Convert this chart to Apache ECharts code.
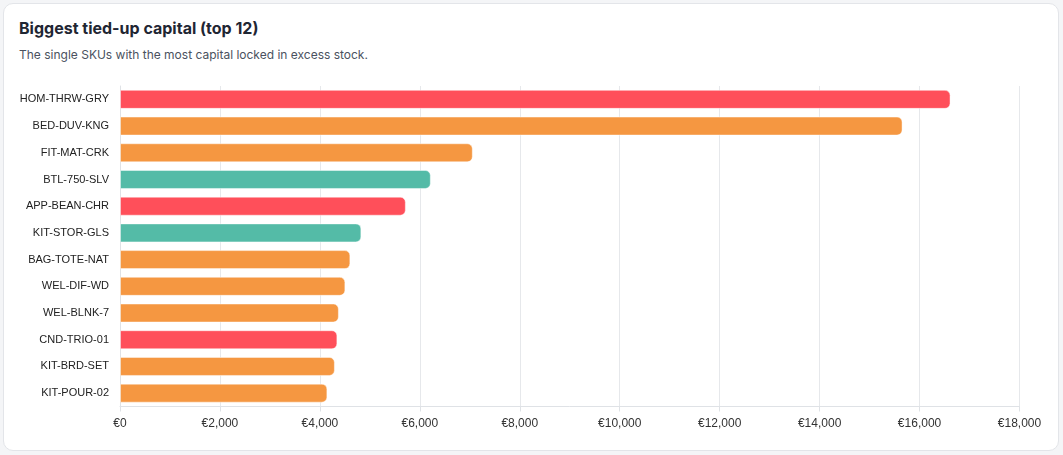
<!DOCTYPE html>
<html>
<head>
<meta charset="utf-8">
<script src="https://cdn.jsdelivr.net/npm/echarts@6/dist/echarts.min.js"></script>
<style>
  html, body { margin: 0; padding: 0; background: #f4f5f7; }
  body { width: 1063px; height: 455px; position: relative; overflow: hidden; font-family: Inter, "Liberation Sans", sans-serif; }
  .card { position: absolute; left: 3px; top: 3px; width: 1054px; height: 446px; background: #fff; border: 1px solid #e3e5e9; border-radius: 10px; }
  .card h3 { position: absolute; left: 15px; top: 14px; margin: 0; font-size: 16px; font-weight: 700; color: #1f2633; }
  .card p { position: absolute; left: 15px; top: 43px; margin: 0; font-size: 12px; color: #4a5260; }
  #chart { position: absolute; left: 0; top: 0; width: 1063px; height: 455px; }
</style>
</head>
<body>
<div class="card">
  <h3>Biggest tied-up capital (top 12)</h3>
  <p>The single SKUs with the most capital locked in excess stock.</p>
</div>
<div id="chart"></div>
<script>
const skus = ['HOM-THRW-GRY', 'BED-DUV-KNG', 'FIT-MAT-CRK', 'BTL-750-SLV', 'APP-BEAN-CHR', 'KIT-STOR-GLS',
  'BAG-TOTE-NAT', 'WEL-DIF-WD', 'WEL-BLNK-7', 'CND-TRIO-01', 'KIT-BRD-SET', 'KIT-POUR-02'];
const capital = [16620, 15660, 7060, 6220, 5720, 4830, 4610, 4510, 4380, 4350, 4300, 4150];
const levels = ['high', 'mid', 'mid', 'low', 'high', 'low', 'mid', 'mid', 'mid', 'high', 'mid', 'mid'];
const levelColors = { high: '#ff4f5a', mid: '#f59741', low: '#54bba7' };

const myChart = echarts.init(document.getElementById('chart'));
const option = {
  animation: false,
  grid: { left: 120, right: 43.5, top: 86, bottom: 48.5 },
  xAxis: {
    type: 'value',
    min: 0,
    max: 18000,
    interval: 2000,
    axisLine: { show: true, lineStyle: { color: '#dfe2e6' } },
    axisTick: { show: true, length: 5, lineStyle: { color: '#dfe2e6' } },
    splitLine: { lineStyle: { color: '#e6e8eb' } },
    axisLabel: {
      color: '#333',
      fontSize: 12,
      fontFamily: 'Liberation Sans, sans-serif',
      margin: 11,
      formatter: (v) => '€' + v.toLocaleString('en-US'),
    },
  },
  yAxis: {
    type: 'category',
    inverse: true,
    data: skus,
    axisLine: { show: true, lineStyle: { color: '#dfe2e6' } },
    axisTick: { show: false },
    axisLabel: { color: '#222', fontSize: 11, fontFamily: 'Liberation Sans, sans-serif', margin: 11 },
  },
  series: [{
    type: 'bar',
    barWidth: 19,
    data: capital.map((v, i) => ({
      value: v,
      itemStyle: { color: levelColors[levels[i]] },
    })),
    itemStyle: {
      borderRadius: [0, 5, 5, 0],
      borderColor: 'rgba(255,255,255,0.45)',
      borderWidth: 1,
    },
  }],
};
myChart.setOption(option);
</script>
</body>
</html>
